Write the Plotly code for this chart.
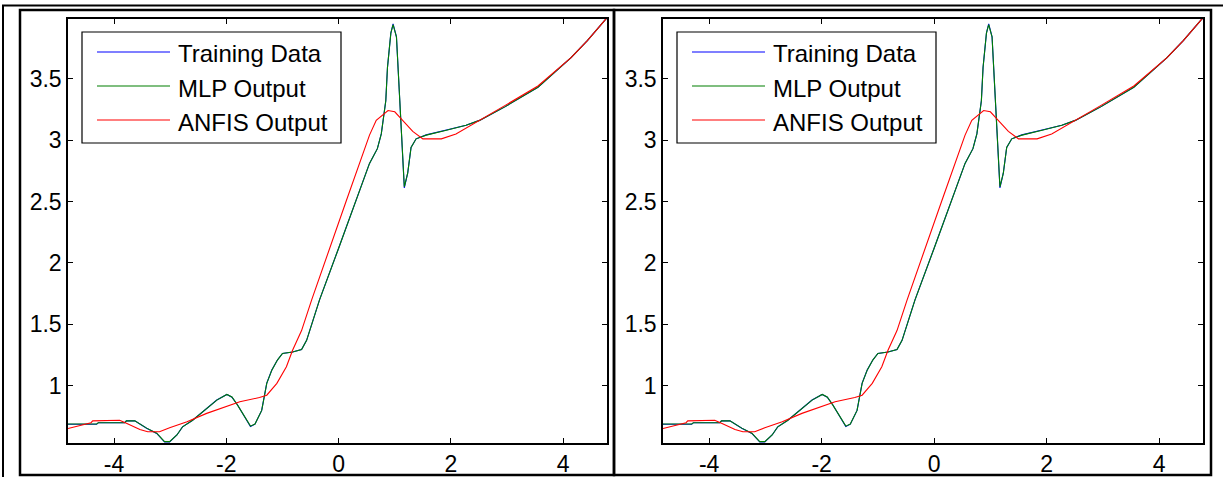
import plotly.graph_objects as go

# ---------------- data ----------------
mlp_x = [-4.82, -4.31, -4.28, -3.81, -3.78, -3.63, -3.42, -3.24, -3.10, -3.01,
         -2.88, -2.78, -2.60, -2.35, -2.17, -1.99, -1.90, -1.80, -1.67, -1.57,
         -1.49, -1.37, -1.28, -1.19, -1.09, -1.00, -0.82, -0.66, -0.57, -0.46,
         -0.34, 0.00, 0.31, 0.55, 0.69, 0.76, 0.84, 0.87, 0.93, 0.97,
         1.03, 1.06, 1.09, 1.13, 1.17, 1.23, 1.29, 1.38, 1.56, 1.92,
         2.27, 2.51, 2.96, 3.55, 4.14, 4.43, 4.77]
mlp_y = [0.69, 0.69, 0.70, 0.70, 0.715, 0.715, 0.656, 0.615, 0.546, 0.546,
         0.60, 0.667, 0.72, 0.816, 0.884, 0.93, 0.91, 0.843, 0.748, 0.672,
         0.689, 0.80, 1.02, 1.128, 1.21, 1.263, 1.276, 1.296, 1.37, 1.534,
         1.70, 2.12, 2.51, 2.81, 2.93, 3.05, 3.32, 3.59, 3.87, 3.94,
         3.84, 3.59, 3.32, 2.92, 2.62, 2.73, 2.94, 3.01, 3.04, 3.08,
         3.12, 3.16, 3.27, 3.43, 3.67, 3.81, 3.99]

train_x = [-4.82, -4.31, -4.28, -3.81, -3.78, -3.63, -3.42, -3.24, -3.10, -3.01,
           -2.88, -2.78, -2.60, -2.35, -2.17, -1.99, -1.90, -1.80, -1.67, -1.57,
           -1.49, -1.37, -1.28, -1.19, -1.09, -1.00, -0.82, -0.66, -0.57, -0.46,
           -0.34, 0.00, 0.31, 0.55, 0.69, 0.76, 0.84, 0.87, 0.93, 0.97,
           1.03, 1.06, 1.09, 1.13, 1.17, 1.23, 1.29, 1.38, 1.56, 1.92,
           2.27, 2.51, 2.96, 3.55, 4.14, 4.43, 4.77]
train_y = [0.687, 0.687, 0.70, 0.70, 0.715, 0.715, 0.655, 0.613, 0.543, 0.543,
           0.60, 0.666, 0.72, 0.817, 0.885, 0.93, 0.908, 0.844, 0.746, 0.670,
           0.688, 0.80, 1.022, 1.129, 1.21, 1.264, 1.276, 1.296, 1.37, 1.534,
           1.70, 2.12, 2.51, 2.81, 2.93, 3.05, 3.32, 3.59, 3.87, 3.945,
           3.84, 3.59, 3.32, 2.92, 2.61, 2.73, 2.94, 3.01, 3.042, 3.082,
           3.12, 3.16, 3.27, 3.43, 3.67, 3.81, 3.99]

anfis_x = [-4.82, -4.41, -4.38, -3.90, -3.77, -3.54, -3.40, -3.19, -3.01, -2.70,
           -2.35, -1.99, -1.76, -1.41, -1.28, -1.10, -0.93, -0.82, -0.66, -0.48,
           0.00, 0.14, 0.55, 0.67, 0.88, 1.00, 1.14, 1.32, 1.50, 1.83,
           2.09, 2.51, 2.96, 3.55, 4.14, 4.43, 4.77]
anfis_y = [0.653, 0.70, 0.715, 0.72, 0.694, 0.645, 0.626, 0.626, 0.659, 0.707,
           0.776, 0.835, 0.87, 0.905, 0.924, 1.02, 1.155, 1.29, 1.45, 1.70,
           2.34, 2.51, 3.04, 3.16, 3.24, 3.23, 3.16, 3.07, 3.01, 3.01,
           3.05, 3.16, 3.28, 3.44, 3.67, 3.81, 3.99]

series_names = ["Training Data", "MLP Output", "ANFIS Output"]
series_colors = ["#0000ff", "#007f00", "#ff0000"]
x_ticks = [-4, -2, 0, 2, 4]
x_tick_labels = ["-4", "-2", "0", "2", "4"]
y_ticks = [1, 1.5, 2, 2.5, 3, 3.5]
y_tick_labels = ["1", "1.5", "2", "2.5", "3", "3.5"]

# ---------------- layout helpers ----------------
W, H = 1223, 477
def px(x):
    return x / W
def py(y):
    return 1 - y / H

FONT = "Liberation Sans, Arial, sans-serif"

fig = go.Figure()
series = [(train_x, train_y), (mlp_x, mlp_y), (anfis_x, anfis_y)]
for xa, ya in [("x", "y"), ("x2", "y2")]:
    for (sx, sy), name, col in zip(series, series_names, series_colors):
        fig.add_trace(go.Scatter(x=sx, y=sy, mode="lines", name=name,
                                 line=dict(color=col, width=1.1),
                                 xaxis=xa, yaxis=ya, showlegend=False))

axis_common = dict(showgrid=False, zeroline=False, showline=True, linecolor="black",
                   linewidth=1.5, mirror="ticks", ticks="inside", ticklen=5,
                   tickwidth=1.2, tickcolor="black", automargin=False,
                   tickfont=dict(family=FONT, size=23, color="black"))

xr = [-4.82, 4.78]
yr = [0.535, 3.985]
ydom = [py(443), py(19)]
fig.update_layout(
    width=W, height=H,
    margin=dict(l=0, r=0, t=0, b=0),
    paper_bgcolor="white", plot_bgcolor="white",
    xaxis=dict(domain=[px(68), px(607)], range=xr, tickvals=x_ticks, ticktext=x_tick_labels,
               anchor="y", **axis_common),
    yaxis=dict(domain=ydom, range=yr, tickvals=y_ticks, ticktext=y_tick_labels, anchor="x", **axis_common),
    xaxis2=dict(domain=[px(663), px(1203)], range=xr, tickvals=x_ticks, ticktext=x_tick_labels,
                anchor="y2", **axis_common),
    yaxis2=dict(domain=ydom, range=yr, tickvals=y_ticks, ticktext=y_tick_labels, anchor="x2", **axis_common),
    showlegend=False,
)

shapes = []
annotations = []
# outer frame lines
shapes.append(dict(type="line", xref="paper", yref="paper", x0=px(2), x1=px(1223), y0=py(5.5), y1=py(5.5),
                   line=dict(color="black", width=2)))
shapes.append(dict(type="line", xref="paper", yref="paper", x0=px(3), x1=px(3), y0=py(5), y1=py(477),
                   line=dict(color="black", width=2)))
# panel frames
shapes.append(dict(type="rect", xref="paper", yref="paper", x0=px(20), x1=px(614), y0=py(475), y1=py(10),
                   line=dict(color="black", width=2.5)))
shapes.append(dict(type="rect", xref="paper", yref="paper", x0=px(614), x1=px(1211), y0=py(475), y1=py(10),
                   line=dict(color="black", width=2.5)))

# legends (one per panel)
for off in (0, 595):
    shapes.append(dict(type="rect", xref="paper", yref="paper", x0=px(82 + off), x1=px(341 + off),
                       y0=py(143), y1=py(32), fillcolor="white",
                       line=dict(color="black", width=1.2), layer="above"))
    for k, (name, col) in enumerate(zip(series_names, series_colors)):
        yy = 52 + 34 * k
        shapes.append(dict(type="line", xref="paper", yref="paper", x0=px(97 + off), x1=px(170 + off),
                           y0=py(yy), y1=py(yy), line=dict(color=col, width=1.2), layer="above"))
        annotations.append(dict(xref="paper", yref="paper", x=px(176 + off), y=py(yy + 2),
                                xanchor="left", yanchor="middle", text=name, showarrow=False,
                                font=dict(family=FONT, size=24, color="black")))

fig.update_layout(shapes=shapes, annotations=annotations)
fig.write_html("out.html")
